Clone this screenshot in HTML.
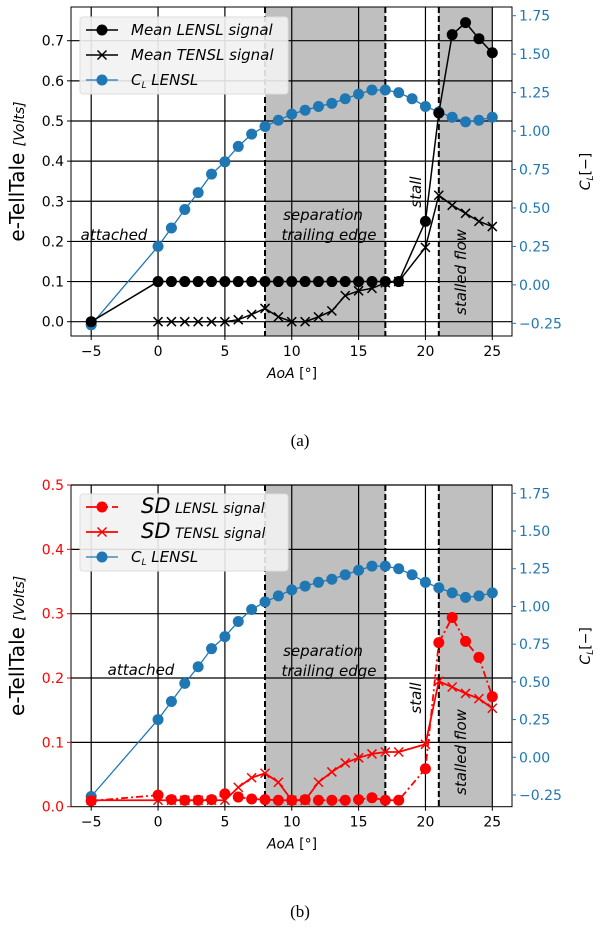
<!DOCTYPE html>
<html><head><meta charset="utf-8">
<style>
html,body{margin:0;padding:0;background:#fff;}
svg{display:block;font-family:"DejaVu Sans","Liberation Sans",sans-serif;}
</style></head>
<body>
<svg id="fig" width="604" height="932" viewBox="0 0 604 932" xmlns="http://www.w3.org/2000/svg"></svg>
<script>
const aoa = [-5,0,1,2,3,4,5,6,7,8,9,10,11,12,13,14,15,16,17,18,19,20,21,22,23,24,25];
const clValues = [-0.26,0.25,0.37,0.49,0.60,0.72,0.80,0.90,0.98,1.03,1.07,1.11,1.135,1.16,1.18,1.21,1.24,1.267,1.267,1.25,1.21,1.16,1.124,1.09,1.06,1.07,1.09];
const sigAoa = [-5,0,1,2,3,4,5,6,7,8,9,10,11,12,13,14,15,16,17,18,20,21,22,23,24,25];
const meanLensl = [0.0,0.1,0.1,0.1,0.1,0.1,0.1,0.1,0.1,0.1,0.1,0.1,0.1,0.1,0.1,0.1,0.1,0.1,0.1,0.1,0.25,0.52,0.715,0.745,0.705,0.67];
const tenAoa = [0,1,2,3,4,5,6,7,8,9,10,11,12,13,14,15,16,17,18,20,21,22,23,24,25];
const meanTensl = [0,0,0,0,0,0,0.005,0.018,0.033,0.012,0.0,0.0,0.012,0.027,0.065,0.077,0.083,0.097,0.1,0.185,0.315,0.29,0.27,0.25,0.237];
const sdLensl = [0.009,0.018,0.011,0.01,0.01,0.011,0.02,0.015,0.012,0.011,0.01,0.01,0.011,0.01,0.01,0.01,0.011,0.014,0.01,0.01,0.059,0.255,0.294,0.257,0.232,0.171];
const sdTensl = [0.01,0.01,0.01,0.01,0.01,0.01,0.01,0.03,0.045,0.052,0.038,0.01,0.01,0.038,0.054,0.068,0.076,0.082,0.085,0.085,0.097,0.195,0.186,0.176,0.168,0.153];
const xTicks = [-5,0,5,10,15,20,25];
const clTicks = [-0.25,0,0.25,0.5,0.75,1.0,1.25,1.5,1.75];
const yTicksA = [0,0.1,0.2,0.3,0.4,0.5,0.6,0.7];
const yTicksB = [0,0.1,0.2,0.3,0.4,0.5];

const NS="http://www.w3.org/2000/svg";
const svg=document.getElementById('fig');
function mk(tag,attrs,parent,text){const e=document.createElementNS(NS,tag);for(const k in attrs)e.setAttribute(k,attrs[k]);if(text!==undefined)e.textContent=text;(parent||svg).appendChild(e);return e;}
const L=71,R=512;
const xs=v=>91.2+(v+5)*(492.3-91.2)/30;

function panel(p){
  const g=mk('g',{});
  
  
  const ys=v=>p.y0+(p.y1-p.y0)*v/p.v1;
  const cs=v=>p.c0+(p.c1-p.c0)*(v+0.25)/2.0;
  [[8,17],[21,25]].forEach(s=>{const r=mk('rect',{x:xs(s[0]),y:p.top,width:xs(s[1])-xs(s[0]),height:p.bot-p.top,fill:'#bfbfbf'},g);
    });
  xTicks.forEach(t=>{const l=mk('line',{x1:xs(t),x2:xs(t),y1:p.top,y2:p.bot,stroke:'#000','stroke-width':1.2},g);});
  p.yTicks.forEach(t=>{if(t===0)return;const l=mk('line',{x1:L,x2:R,y1:ys(t),y2:ys(t),stroke:'#000','stroke-width':1.2},g);});
  if(p.zeroGrid){const l=mk('line',{x1:L,x2:R,y1:ys(0),y2:ys(0),stroke:'#000','stroke-width':1.2},g);}
  [8,17,21].forEach(t=>{const l=mk('line',{x1:xs(t),x2:xs(t),y1:p.top,y2:p.bot,stroke:'#000','stroke-width':2,'stroke-dasharray':'6,3'},g);});
  const ann=(txt,x,y,rot,nm)=>{const t=mk('text',{x:x,y:y,'font-size':15,'font-style':'italic','text-anchor':'middle',transform:rot?`rotate(-90 ${x} ${y})`:''},g,txt);};
  ann('attached',p.att[0],p.att[1],false,'attached-label');
  ann('separation',323,p.sep,false,'separation-label');
  ann('trailing edge',329,p.sep+20,false,'trailing-edge-label');
  ann('stall',421,p.stall,true,'stall-label');
  ann('stalled flow',466,p.flow,true,'stalled-flow-label');
  const series=(xsArr,ysArr,sc,color,lw,dash,marker,nm)=>{
    const pts=xsArr.map((a,i)=>[xs(a),sc(ysArr[i])]);
    const pl=mk('polyline',{points:pts.map(q=>q.join(',')).join(' '),fill:'none',stroke:color,'stroke-width':lw,'stroke-dasharray':dash||''},g);
    
    pts.forEach(q=>{
      let m;
      if(marker==='o'){m=mk('circle',{cx:q[0],cy:q[1],r:5.5,fill:color},g);}
      else{m=mk('path',{d:`M${q[0]-4.5},${q[1]-4.5}L${q[0]+4.5},${q[1]+4.5}M${q[0]-4.5},${q[1]+4.5}L${q[0]+4.5},${q[1]-4.5}`,stroke:color,'stroke-width':1.5},g);}
      
    });
  };
  series(aoa,clValues,cs,'#1f77b4',1.3,'', 'o','cl');
  p.draw(series,ys);
  const f=mk('rect',{x:L,y:p.top,width:R-L,height:p.bot-p.top,fill:'none',stroke:'#000','stroke-width':1},g);
  
  xTicks.forEach(t=>{mk('line',{x1:xs(t),x2:xs(t),y1:p.bot,y2:p.bot+4,stroke:'#000'},g);
    const tx=mk('text',{x:xs(t),y:p.bot+20,'font-size':14,'text-anchor':'middle'},g,t<0?'\u2212'+(-t):String(t));});
  p.yTicks.forEach(t=>{mk('line',{x1:L-4,x2:L,y1:ys(t),y2:ys(t),stroke:p.lc},g);
    const tx=mk('text',{x:L-7,y:ys(t)+5,'font-size':14,'text-anchor':'end',fill:p.lc},g,t.toFixed(1));});
  clTicks.forEach(t=>{mk('line',{x1:R,x2:R+4,y1:cs(t),y2:cs(t),stroke:'#1f77b4'},g);
    const tx=mk('text',{x:R+7,y:cs(t)+5,'font-size':14,fill:'#1f77b4'},g,(t<0?'\u2212':'')+Math.abs(t).toFixed(2));});
  const xl=mk('text',{x:292,y:p.bot+42,'font-size':14,'text-anchor':'middle'},g);xl.innerHTML='<tspan font-style="italic">AoA</tspan> [°]';
  
  const ym=(p.top+p.bot)/2;
  const yl=mk('text',{x:24,y:ym,'font-size':20,'text-anchor':'middle',transform:`rotate(-90 24 ${ym})`},g);yl.innerHTML='e-TellTale <tspan font-size="14" font-style="italic">[Volts]</tspan>';
  
  const rl=mk('text',{x:590,y:ym,'font-size':14,'text-anchor':'middle',transform:`rotate(-90 590 ${ym})`},g);rl.innerHTML='<tspan font-style="italic">C</tspan><tspan font-size="9" font-style="italic" dy="3">L</tspan><tspan dy="-3">[−]</tspan>';
  
  const lg=mk('g',{},g);
  mk('rect',{x:80,y:p.leg,width:208,height:77,rx:3,fill:'#f2f2f2','fill-opacity':0.9,stroke:'#ddd'},lg);
  p.legend(lg,p.leg);
  const c=mk('g',{},lg);
  mk('line',{x1:86,x2:118,y1:p.leg+63,y2:p.leg+63,stroke:'#1f77b4','stroke-width':1.3},c);
  mk('circle',{cx:102,cy:p.leg+63,r:5.5,fill:'#1f77b4'},c);
  const ct=mk('text',{x:131,y:p.leg+68,'font-size':15,'font-style':'italic'},c);ct.innerHTML='C<tspan font-size="9" dy="3">L</tspan><tspan dy="-3"> LENSL</tspan>';
  const cap=mk('text',{x:300,y:p.cap,'font-size':17,'font-family':'Liberation Serif, serif','text-anchor':'middle'},g,p.capText);
  
}

panel({name:'panel-a',top:7,bot:336,y0:321.7,y1:40.7,v1:0.7,c0:323.3,c1:15.7,yTicks:yTicksA,lc:'#000',zeroGrid:true,
  att:[114,240],sep:220,stall:192,flow:272,leg:17,cap:446,capText:'(a)',
  draw:(series,ys)=>{series(sigAoa,meanLensl,ys,'#000',1.5,'','o','mean-lensl');series(tenAoa,meanTensl,ys,'#000',1.5,'','x','mean-tensl');},
  legend:(lg,y)=>{
    const a=mk('g',{},lg);
    mk('line',{x1:86,x2:118,y1:y+13,y2:y+13,stroke:'#000','stroke-width':1.5},a);mk('circle',{cx:102,cy:y+13,r:5.5,fill:'#000'},a);
    mk('text',{x:131,y:y+18,'font-size':15,'font-style':'italic'},a,'Mean LENSL signal');
    const b=mk('g',{},lg);
    mk('line',{x1:86,x2:118,y1:y+38,y2:y+38,stroke:'#000','stroke-width':1.5},b);
    mk('path',{d:`M97.5,${y+33.5}L106.5,${y+42.5}M97.5,${y+42.5}L106.5,${y+33.5}`,stroke:'#000','stroke-width':1.5},b);
    mk('text',{x:131,y:y+43,'font-size':15,'font-style':'italic'},b,'Mean TENSL signal');
  }});

panel({name:'panel-b',top:485,bot:806.7,y0:806.7,y1:485,v1:0.5,c0:795,c1:493.3,yTicks:yTicksB,lc:'#ff0000',zeroGrid:false,
  att:[141,675],sep:656,stall:698,flow:752,leg:494,cap:917,capText:'(b)',
  draw:(series,ys)=>{series(sigAoa,sdLensl,ys,'#ff0000',1.8,'7,3,2,3','o','sd-lensl');series(sigAoa,sdTensl,ys,'#ff0000',1.8,'','x','sd-tensl');},
  legend:(lg,y)=>{
    const a=mk('g',{},lg);
    mk('line',{x1:86,x2:118,y1:y+13,y2:y+13,stroke:'#ff0000','stroke-width':1.8,'stroke-dasharray':'14,4,4,4'},a);mk('circle',{cx:102,cy:y+13,r:5.5,fill:'#ff0000'},a);
    const t1=mk('text',{x:141,y:y+19,'font-size':14,'font-style':'italic'},a);t1.innerHTML='<tspan font-size="21">SD</tspan> LENSL signal';
    const b=mk('g',{},lg);
    mk('line',{x1:86,x2:118,y1:y+38,y2:y+38,stroke:'#ff0000','stroke-width':1.8},b);
    mk('path',{d:`M97.5,${y+33.5}L106.5,${y+42.5}M97.5,${y+42.5}L106.5,${y+33.5}`,stroke:'#ff0000','stroke-width':1.5},b);
    const t2=mk('text',{x:141,y:y+44,'font-size':14,'font-style':'italic'},b);t2.innerHTML='<tspan font-size="21">SD</tspan> TENSL signal';
  }});
</script>
</body></html>
